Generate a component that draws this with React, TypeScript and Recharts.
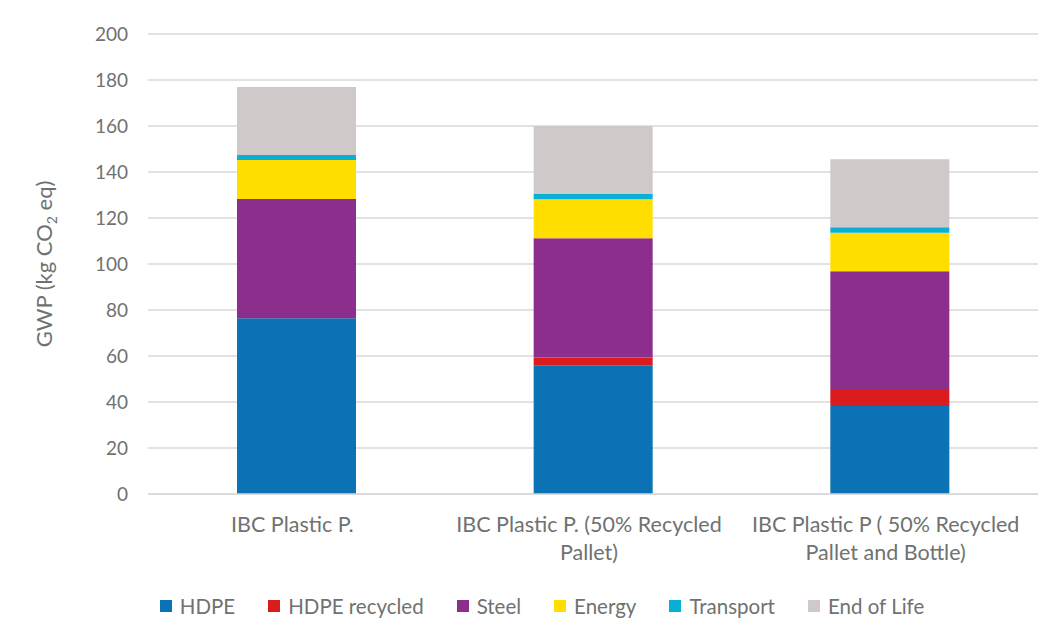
import React from "react";
import { BarChart, Bar, XAxis, YAxis, CartesianGrid, Legend } from "recharts";

// GWP breakdown per IBC variant, kg CO2 eq
const categories = [
  "IBC Plastic P.",
  "IBC Plastic P. (50% Recycled Pallet)",
  "IBC Plastic P ( 50% Recycled Pallet and Bottle)",
];
const categoryLines = [
  ["IBC Plastic P."],
  ["IBC Plastic P. (50% Recycled", "Pallet)"],
  ["IBC Plastic P ( 50% Recycled", "Pallet and Bottle)"],
];

const hdpe = [76.4, 56.0, 38.3];
const hdpeRecycled = [0, 3.4, 6.9];
const steel = [51.9, 51.8, 51.6];
const energy = [16.9, 16.9, 16.8];
const transport = [2.2, 2.3, 2.4];
const endOfLife = [29.6, 29.6, 29.5];

const yTicks = [0, 20, 40, 60, 80, 100, 120, 140, 160, 180, 200];

const series = [
  { key: "hdpe", name: "HDPE", color: "#0b72b5", values: hdpe },
  { key: "hdpeRecycled", name: "HDPE recycled", color: "#da1c1f", values: hdpeRecycled },
  { key: "steel", name: "Steel", color: "#8b2e8c", values: steel },
  { key: "energy", name: "Energy", color: "#ffde00", values: energy },
  { key: "transport", name: "Transport", color: "#09b0d6", values: transport },
  { key: "endOfLife", name: "End of Life", color: "#cfc9c9", values: endOfLife },
];

const chartData = categories.map((name, i) => {
  const row: Record<string, string | number> = { name, idx: i };
  series.forEach((s) => {
    row[s.key] = s.values[i];
  });
  return row;
});

const FONT = "Lato, 'Open Sans', sans-serif";
const TEXT = "#6f7270";

function CategoryTick(props: any) {
  const { x, y, payload } = props;
  const lines = categoryLines[payload.index] ?? [payload.value];
  return (
    <g transform={`translate(${x},${y})`}>
      {lines.map((line, i) => (
        <text
          key={i}
          x={-4}
          y={30 + i * 28}
          textAnchor="middle"
          fill={TEXT}
          fontSize={21.5}
          fontFamily={FONT}
        >
          {line}
        </text>
      ))}
    </g>
  );
}

function AxisTitle(props: any) {
  const { viewBox } = props;
  const cx = 44;
  const cy = viewBox.y + viewBox.height / 2;
  return (
    <text
      transform={`translate(${cx},${cy}) rotate(-90)`}
      textAnchor="middle"
      fill={TEXT}
      fontSize={22}
      fontFamily={FONT}
    >
      GWP (kg CO
      <tspan fontSize={14} dy={5}>2</tspan>
      <tspan dy={-5}> eq)</tspan>
    </text>
  );
}

function LegendContent() {
  return (
    <div
      style={{
        display: "flex",
        justifyContent: "center",
        alignItems: "center",
        gap: 33,
        fontFamily: FONT,
        fontSize: 20.5,
        color: TEXT,
        height: 52,
        boxSizing: "border-box",
        paddingBottom: 28,
        marginLeft: -42,
      }}
    >
      {series.map((s) => (
        <div key={s.key} style={{ display: "flex", alignItems: "center", gap: 8 }}>
          <span style={{ width: 12, height: 12, background: s.color, display: "inline-block" }} />
          <span>{s.name}</span>
        </div>
      ))}
    </div>
  );
}

export default function App() {
  return (
    <div
      style={{
        width: 1050,
        height: 640,
        marginLeft: -1,
        marginTop: -3,
        border: "1px solid #d9d9d9",
        background: "#fff",
      }}
    >
      <BarChart
        width={1050}
        height={640}
        data={chartData}
        margin={{ top: 28, right: 20, bottom: 0, left: 80 }}
      >
        <CartesianGrid vertical={false} stroke="#d9d9d9" strokeWidth={1.5} />
        <XAxis
          dataKey="name"
          tick={<CategoryTick />}
          tickLine={false}
          axisLine={{ stroke: "#d9d9d9", strokeWidth: 1.5 }}
          height={100}
          interval={0}
        />
        <YAxis
          domain={[0, 200]}
          ticks={yTicks}
          width={60}
          tickLine={false}
          axisLine={false}
          tick={{ fill: TEXT, fontSize: 19, fontFamily: FONT }}
          tickMargin={14}
          label={<AxisTitle />}
        />
        <Legend verticalAlign="bottom" content={<LegendContent />} />
        {series.map((s) => (
          <Bar
            key={s.key}
            dataKey={s.key}
            name={s.name}
            stackId="gwp"
            fill={s.color}
            barSize={119}
            isAnimationActive={false}
          />
        ))}
      </BarChart>
    </div>
  );
}
